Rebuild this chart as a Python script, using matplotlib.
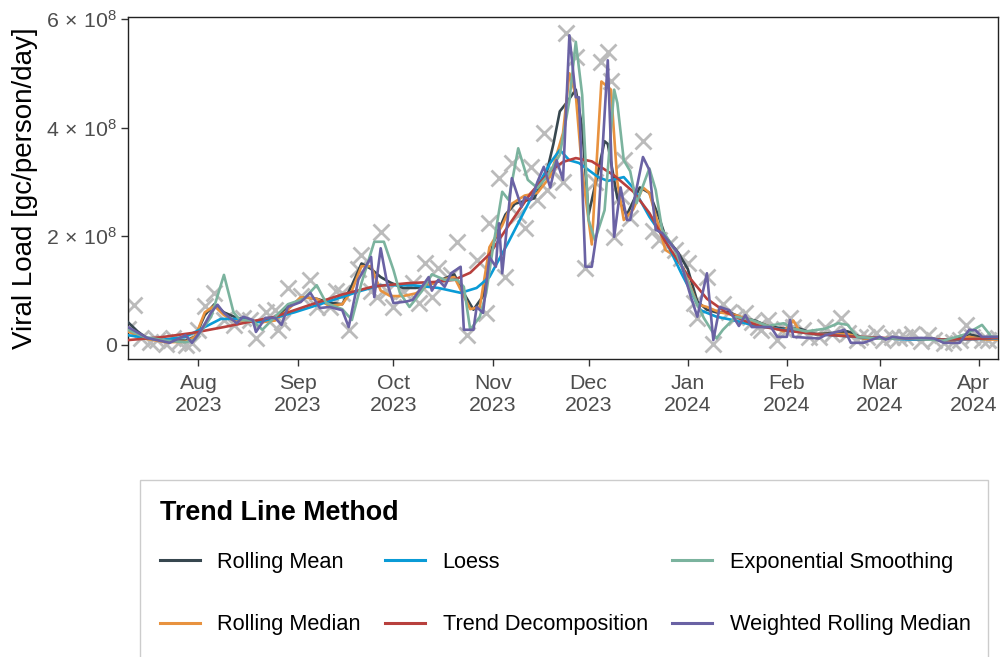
import numpy as np
import pandas as pd
import matplotlib
matplotlib.use("Agg")
import matplotlib.pyplot as plt
import matplotlib.dates as mdates
from matplotlib.lines import Line2D
from matplotlib.patches import Rectangle
from matplotlib.transforms import ScaledTranslation

plt.rcParams['font.family'] = ['Liberation Sans', 'DejaVu Sans']
plt.rcParams['mathtext.fontset'] = 'custom'
plt.rcParams['mathtext.rm'] = 'Liberation Sans'
plt.rcParams['mathtext.it'] = 'Liberation Sans:italic'
plt.rcParams['mathtext.bf'] = 'Liberation Sans:bold'

START = pd.Timestamp("2023-07-10")
UNIT = 1e8  # values below are in units of 1e8 gc/person/day

# Observed samples (day offset from START, viral load in 1e8)
obs_day = [0, 2, 4, 7, 9, 12, 14, 16, 18, 20, 22, 24, 27, 30, 33, 36, 38, 40, 43, 46,
           47, 48, 50, 54, 57, 59, 63, 65, 67, 69, 72, 73, 76, 78, 79, 81, 83, 86, 89, 91,
           93, 95, 97, 101, 103, 106, 109, 112, 113, 116, 118, 120, 122, 124, 126, 128, 130, 131, 133, 136,
           137, 140, 143, 146, 148, 150, 151, 152, 154, 155, 157, 161, 164, 166, 169, 171, 173, 175, 177, 178,
           181, 183, 186, 188, 190, 193, 195, 197, 198, 200, 203, 205, 207, 208, 211, 213, 216, 218, 220, 223,
           225, 228, 229, 231, 234, 236, 239, 241, 243, 245, 248, 250, 252, 255, 258, 260, 262, 264, 267, 269, 272]
obs_val = [0.30, 0.74, 0.12, 0.05, 0.10, 0.02, 0.12, 0.05, 0.00, 0.04, 0.28, 0.72, 0.96, 0.46, 0.37, 0.50, 0.46, 0.13, 0.60, 0.64,
           0.28, 0.42, 1.05, 0.90, 1.20, 0.70, 0.70, 1.00, 0.96, 0.28, 1.40, 1.65, 1.00, 0.88, 2.08, 1.00, 0.70, 1.00, 1.14, 0.77,
           1.50, 0.88, 1.42, 1.29, 1.90, 0.18, 1.56, 0.59, 2.24, 3.07, 1.25, 3.35, 2.40, 2.15, 3.28, 2.67, 3.90, 2.85, 3.20, 3.00,
           5.74, 5.30, 1.42, 3.00, 5.20, 5.40, 4.85, 1.99, 2.75, 3.40, 2.33, 3.75, 2.10, 1.93, 1.85, 1.75, 1.60, 1.50, 0.77, 0.50,
           1.25, 0.02, 0.75, 0.60, 0.52, 0.59, 0.42, 0.33, 0.28, 0.46, 0.09, 0.30, 0.50, 0.33, 0.28, 0.15, 0.15, 0.33, 0.20, 0.50,
           0.22, 0.09, 0.15, 0.15, 0.22, 0.10, 0.15, 0.12, 0.15, 0.20, 0.08, 0.18, 0.10, 0.04, 0.05, 0.10, 0.37, 0.15, 0.10, 0.10, 0.12]

# Rolling Mean
rm_day = [0, 3, 6, 12, 18, 21, 24, 27, 30, 34, 38, 42, 46, 50, 55, 59, 63, 67, 70, 73,
          76, 79, 82, 86, 90, 94, 98, 102, 105, 108, 111, 114, 118, 121, 124, 127, 131, 133, 135, 137,
          140, 142, 144, 147, 149, 150, 153, 156, 160, 163, 166, 168, 172, 175, 178, 181, 184, 188, 192, 196,
          200, 205, 210, 215, 220, 225, 230, 240, 250, 258, 263, 268, 272]
rm_val = [0.42, 0.25, 0.12, 0.08, 0.08, 0.15, 0.55, 0.75, 0.60, 0.50, 0.45, 0.42, 0.50, 0.70, 0.88, 0.85, 0.78, 0.75, 1.10, 1.50,
          1.40, 1.25, 1.15, 1.05, 1.05, 1.10, 1.20, 1.30, 0.95, 0.65, 0.90, 1.85, 2.40, 2.60, 2.65, 2.70, 3.20, 3.70, 4.30, 4.45,
          4.70, 4.00, 2.40, 3.20, 3.75, 3.70, 2.70, 2.40, 2.90, 2.80, 2.35, 2.00, 1.70, 1.40, 0.80, 0.65, 0.60, 0.60, 0.50, 0.45,
          0.35, 0.30, 0.30, 0.20, 0.22, 0.25, 0.12, 0.12, 0.12, 0.08, 0.20, 0.12, 0.12]

# Rolling Median
rmed_day = [0, 5, 12, 18, 21, 24, 27, 30, 33, 38, 42, 46, 50, 54, 59, 63, 67, 70, 73, 76,
            79, 82, 86, 90, 94, 98, 102, 105, 107, 110, 113, 117, 120, 124, 128, 132, 136, 138, 140, 142,
            145, 148, 151, 153, 155, 158, 161, 163, 168, 172, 175, 178, 181, 185, 190, 195, 200, 205, 208, 210,
            215, 225, 230, 240, 250, 258, 263, 268, 272]
rmed_val = [0.25, 0.12, 0.05, 0.06, 0.15, 0.60, 0.72, 0.55, 0.45, 0.45, 0.42, 0.45, 0.65, 0.88, 0.85, 0.72, 0.75, 1.00, 1.45, 1.45,
            1.00, 0.90, 0.90, 0.95, 1.10, 1.20, 1.25, 0.90, 0.66, 0.70, 1.80, 2.20, 2.60, 2.75, 2.80, 3.10, 3.90, 5.00, 4.60, 3.20,
            1.85, 4.85, 4.70, 3.00, 2.30, 2.50, 2.90, 2.80, 1.75, 1.60, 1.20, 0.75, 0.70, 0.60, 0.55, 0.45, 0.35, 0.25, 0.45, 0.25,
            0.20, 0.20, 0.12, 0.12, 0.12, 0.08, 0.15, 0.10, 0.10]

# Loess
lo_day = [0, 10, 18, 29, 35, 41, 52, 60, 73, 79, 89, 97, 104, 109, 113, 119, 126, 132, 135, 138,
          141, 147, 150, 155, 158, 163, 168, 173, 179, 184, 189, 195, 205, 215, 230, 245, 260, 272]
lo_val = [0.18, 0.09, 0.15, 0.48, 0.48, 0.42, 0.60, 0.75, 1.00, 1.10, 1.10, 1.05, 0.96, 1.05, 1.25, 1.90, 2.70, 3.35, 3.59, 3.40,
          3.35, 3.09, 3.02, 3.09, 2.89, 2.36, 1.93, 1.32, 0.64, 0.52, 0.46, 0.37, 0.28, 0.20, 0.14, 0.10, 0.10, 0.12]

# Trend Decomposition
td_day = [0, 10, 20, 30, 40, 46, 56, 67, 77, 88, 96, 102, 107, 113, 119, 126, 132, 136, 140, 145,
          152, 158, 163, 168, 175, 181, 187, 193, 198, 205, 215, 225, 240, 255, 265, 272]
td_val = [0.09, 0.14, 0.22, 0.33, 0.45, 0.52, 0.72, 0.93, 1.08, 1.14, 1.16, 1.20, 1.33, 1.67, 2.20, 2.80, 3.20, 3.37, 3.44, 3.38,
          3.12, 2.82, 2.43, 1.90, 1.28, 0.85, 0.60, 0.44, 0.34, 0.27, 0.20, 0.16, 0.12, 0.10, 0.11, 0.13]

# Exponential Smoothing
es_day = [0, 5, 12, 18, 21, 26, 30, 33, 35, 39, 42, 45, 50, 55, 59, 62, 67, 70, 73, 77,
          80, 83, 85, 88, 92, 95, 99, 103, 105, 107, 110, 112, 114, 117, 119, 122, 125, 128, 131, 135,
          138, 140, 142, 144, 146, 149, 152, 153, 155, 157, 159, 163, 165, 167, 171, 174, 177, 180, 184, 186,
          190, 195, 200, 205, 208, 212, 218, 222, 225, 228, 235, 245, 255, 262, 267, 270, 272]
es_val = [0.28, 0.15, 0.08, 0.05, 0.10, 0.52, 1.29, 0.60, 0.46, 0.45, 0.28, 0.46, 0.75, 0.85, 1.10, 0.77, 0.66, 0.46, 1.14, 1.90,
          1.90, 1.38, 0.96, 0.70, 1.00, 1.30, 1.20, 1.20, 1.07, 0.28, 0.52, 0.96, 1.75, 2.82, 2.67, 3.62, 3.04, 2.89, 3.10, 3.50,
          4.50, 5.58, 4.60, 2.30, 1.93, 2.48, 4.70, 4.45, 3.40, 3.20, 2.61, 3.25, 2.85, 2.12, 1.75, 1.32, 0.88, 0.50, 0.12, 0.28,
          0.52, 0.46, 0.35, 0.40, 0.30, 0.25, 0.30, 0.40, 0.37, 0.15, 0.12, 0.12, 0.08, 0.20, 0.37, 0.15, 0.15]

# Weighted Rolling Median
wrm_day = [0, 6, 13, 18, 20, 23, 26, 28, 30, 34, 36, 39, 40, 43, 46, 48, 50, 54, 57, 60,
           63, 67, 69, 72, 76, 77, 79, 81, 83, 87, 89, 94, 95, 97, 99, 101, 104, 105, 108, 109,
           111, 113, 115, 116, 117, 120, 123, 124, 126, 128, 130, 132, 134, 136, 138, 140, 141, 143, 145, 147,
           150, 152, 154, 156, 157, 161, 163, 165, 167, 172, 176, 178, 181, 183, 185, 188, 191, 193, 195, 201,
           203, 206, 207, 208, 213, 216, 218, 224, 226, 230, 235, 237, 239, 243, 248, 252, 255, 260, 263, 265, 267, 272]
wrm_val = [0.33, 0.13, 0.04, 0.18, 0.04, 0.28, 0.60, 0.74, 0.59, 0.40, 0.52, 0.46, 0.24, 0.50, 0.50, 0.37, 0.70, 0.79, 0.96, 0.68,
           0.70, 0.64, 0.33, 1.20, 1.62, 0.88, 1.78, 1.14, 0.77, 0.80, 0.83, 1.25, 1.00, 1.20, 1.07, 1.32, 1.44, 0.28, 0.28, 0.70,
           0.59, 1.62, 1.44, 2.24, 1.32, 3.07, 2.54, 2.72, 2.67, 3.00, 3.28, 2.90, 3.40, 3.04, 5.70, 4.56, 4.56, 1.44, 1.44, 2.24,
           5.24, 1.99, 2.90, 2.30, 2.30, 3.46, 3.22, 2.12, 2.06, 1.69, 0.88, 0.52, 1.32, 0.09, 0.70, 0.64, 0.35, 0.55, 0.33, 0.33,
           0.15, 0.15, 0.46, 0.15, 0.13, 0.12, 0.18, 0.28, 0.04, 0.04, 0.15, 0.10, 0.15, 0.12, 0.13, 0.12, 0.04, 0.04, 0.28, 0.27, 0.15, 0.15]

methods = ["Rolling Mean", "Rolling Median", "Loess", "Trend Decomposition",
           "Exponential Smoothing", "Weighted Rolling Median"]
colors = ["#37474F", "#E8923F", "#0A9BD6", "#B8403D", "#7BB39E", "#6A62A4"]
series = [(rm_day, rm_val), (rmed_day, rmed_val), (lo_day, lo_val),
          (td_day, td_val), (es_day, es_val), (wrm_day, wrm_val)]

x_start = START
x_end = START + pd.Timedelta(days=272)
x_ticks = pd.date_range("2023-08-01", "2024-04-01", freq="MS")
y_limits = (-0.258, 6.037)
y_ticks = [0, 2, 4, 6]
y_tick_labels = ["0", r"$2\,\times\,10^{8}$", r"$4\,\times\,10^{8}$", r"$6\,\times\,10^{8}$"]


def to_dates(days):
    return START + pd.to_timedelta(np.asarray(days), unit="D")


fig = plt.figure(figsize=(10, 6.57), dpi=100)
ax = fig.add_axes([0.128, 1 - 359 / 657, 0.870, (359 - 17) / 657])

ax.plot(to_dates(obs_day), np.asarray(obs_val) * UNIT, linestyle="none", marker="x",
        markersize=11.5, markeredgewidth=2.0, color="#BBBBBB", zorder=2)

for (d, v), c in zip(series, colors):
    ax.plot(to_dates(d), np.asarray(v) * UNIT, color=c, lw=1.9, zorder=3,
            solid_joinstyle="round")

ax.set_xlim(x_start, x_end)
ax.set_ylim(y_limits[0] * UNIT, y_limits[1] * UNIT)
ax.set_yticks([t * UNIT for t in y_ticks])
ax.set_yticklabels(y_tick_labels)

ax.set_xticks(x_ticks)
ax.xaxis.set_major_formatter(mdates.DateFormatter("%b\n%Y"))

for s in ax.spines.values():
    s.set_color("#222222")
    s.set_linewidth(1.0)
ax.tick_params(axis="both", direction="out", length=5, width=1.0, color="#333333",
               labelcolor="#4D4D4D", labelsize=15.3)
ax.tick_params(axis="x", pad=6)
ax.tick_params(axis="y", pad=3)

xticks_objs = ax.xaxis.get_major_ticks()
for t in xticks_objs:
    t.label1.set_linespacing(1.15)
# keep the last label inside the canvas
last = xticks_objs[-1].label1
last.set_transform(last.get_transform() + ScaledTranslation(-5 / 100, 0, fig.dpi_scale_trans))

ax.set_ylabel("Viral Load [gc/person/day]", fontsize=20, color="black", labelpad=6)

# Legend box (extends past the bottom edge, as in the reference)
fig.add_artist(Rectangle((0.140, -0.05), 0.848, (1 - 480 / 657) + 0.05,
                         transform=fig.transFigure, facecolor="white",
                         edgecolor="#CCCCCC", linewidth=1.0, zorder=0))

handles = [Line2D([0], [0], color=c, lw=2.2) for c in colors]
leg = fig.legend(handles, methods, loc="upper left",
                 bbox_to_anchor=(0.140, 1 - 480 / 657), bbox_transform=fig.transFigure,
                 ncol=3, frameon=False, fontsize=15.7, title="Trend Line Method",
                 title_fontproperties={"weight": "bold", "size": 19.4}, alignment="left",
                 handlelength=1.85, handletextpad=0.8, columnspacing=1.1,
                 labelspacing=1.9, borderpad=0.9, borderaxespad=0)
leg._legend_box.sep = 19

fig.savefig("out.png", dpi=100)
